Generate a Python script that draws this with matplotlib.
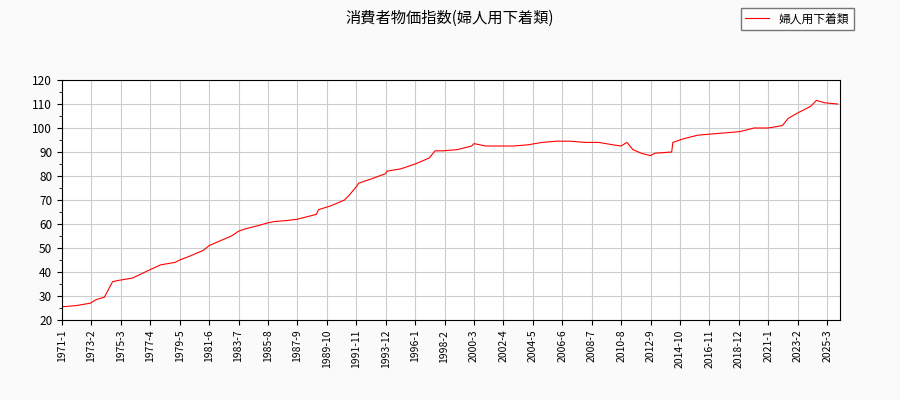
import matplotlib.pyplot as plt
from matplotlib.ticker import MultipleLocator

plt.rcParams['font.family'] = ['Noto Sans CJK JP', 'DejaVu Sans']

# (year, month, index value)
years = [1971, 1972, 1973, 1973, 1974, 1974, 1975, 1976, 1977, 1978, 1979, 1979, 1980, 1981, 1981,
         1982, 1983, 1983, 1984, 1985, 1985, 1986, 1987, 1987, 1988, 1989, 1989, 1990, 1991, 1991,
         1991, 1992, 1993, 1993, 1994, 1995, 1996, 1997, 1997, 1998, 1999, 2000, 2000, 2001, 2002,
         2003, 2004, 2005, 2006, 2007, 2008, 2009, 2010, 2010, 2011, 2011, 2012, 2012, 2013, 2014,
         2014, 2015, 2016, 2017, 2018, 2019, 2020, 2021, 2022, 2022, 2023, 2024, 2024, 2025, 2025]
months = [1, 1, 1, 6, 1, 8, 1, 1, 4, 1, 1, 5, 1, 1, 6,
          1, 1, 7, 1, 1, 8, 1, 1, 9, 1, 1, 3, 1, 1, 5,
          11, 1, 1, 12, 1, 1, 1, 1, 6, 1, 1, 1, 3, 1, 1,
          1, 1, 1, 1, 1, 1, 1, 1, 8, 1, 6, 1, 9, 1, 3,
          4, 1, 1, 1, 1, 1, 1, 1, 1, 6, 1, 1, 6, 1, 12]
values = [25.5, 26.0, 27.0, 28.5, 29.5, 36.0, 36.5, 37.5, 41.0, 43.0, 44.0, 45.0, 46.5, 49.0, 51.0,
          52.5, 55.0, 57.0, 58.0, 59.5, 60.5, 61.0, 61.5, 62.0, 62.5, 64.0, 66.0, 67.5, 70.0, 72.0,
          75.5, 77.0, 79.0, 81.0, 82.0, 83.0, 85.0, 87.5, 90.5, 90.5, 91.0, 92.5, 93.5, 92.5, 92.5,
          92.5, 93.0, 94.0, 94.5, 94.5, 94.0, 94.0, 93.0, 92.5, 94.0, 91.0, 89.5, 88.5, 89.5, 90.0,
          94.0, 95.5, 97.0, 97.5, 98.0, 98.5, 100.0, 100.0, 101.0, 104.0, 106.0, 109.0, 111.5, 110.5, 110.0]

x = [(y - 1971) * 12 + (m - 1) for y, m in zip(years, months)]
tick_pos = list(range(0, 651, 25))
tick_labels = ['%d-%d' % (1971 + p // 12, p % 12 + 1) for p in tick_pos]

fig = plt.figure(figsize=(9, 4), dpi=100, facecolor='#fafafa')
ax = fig.add_axes([62 / 900, 80 / 400, 778 / 900, 240 / 400])
ax.plot(x, values, color='red', linewidth=0.8, label='婦人用下着類')
ax.set_xlim(0, 661)
ax.set_ylim(20, 120)
ax.set_xticks(tick_pos)
ax.set_xticklabels(tick_labels, rotation=90, fontsize=7.5)
ax.yaxis.set_major_locator(MultipleLocator(10))
ax.yaxis.set_minor_locator(MultipleLocator(5))
ax.tick_params(axis='y', labelsize=8.5)
ax.grid(True, color='#cccccc', linewidth=0.8)
ax.set_facecolor('white')
fig.suptitle('消費者物価指数(婦人用下着類)', y=0.975, fontsize=11)
fig.legend(loc='upper right', bbox_to_anchor=(0.955, 0.995), fontsize=8.5, frameon=True,
           fancybox=False, edgecolor='#555555')
fig.savefig('out.png', dpi=100, facecolor=fig.get_facecolor())
